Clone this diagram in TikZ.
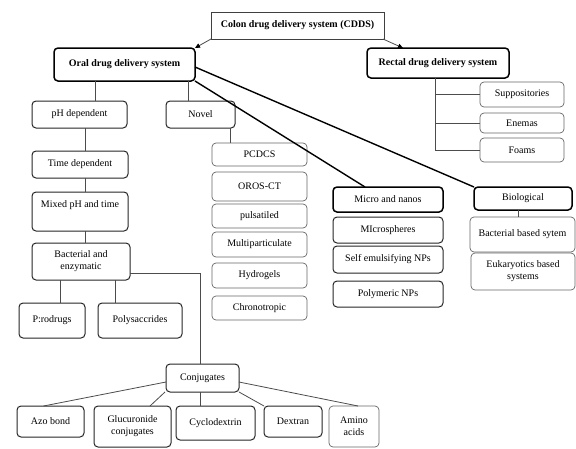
\documentclass[tikz,border=0pt]{standalone}
\usepackage{fontspec}
\setmainfont{Liberation Serif}
\usetikzlibrary{arrows.meta}
\newcommand{\bx}[7]{\node[#1, minimum width={(#5)-(#3)}, minimum height={(#6)-(#4)}] (#2) at ({((#3)+(#5))/2},{((#4)+(#6))/2}) {#7};}
\begin{document}
\begin{tikzpicture}[x=1pt,y=-1pt,
  every node/.style={font=\rmfamily\fontsize{10}{12}\selectfont, inner sep=1pt, outer sep=0pt, align=center},
  tbox/.style={draw=black!60, line width=0.7pt, rounded corners=4pt, fill=white},
  mbox/.style={draw=black!85, line width=1pt, rounded corners=4pt, fill=white},
  kbox/.style={draw=black, line width=1.5pt, rounded corners=4pt, fill=white},
  sbox/.style={draw=black!75, line width=1pt, fill=white},
  conn/.style={draw=black!70, line width=0.8pt},
  diag/.style={draw=black, line width=1.4pt},
  arr/.style={draw=black!70, line width=0.8pt, -{Triangle[length=5pt,width=4.5pt,black]}}]
\useasboundingbox (0,0) rectangle (576,448);
% top
\bx{sbox}{cdds}{211}{12}{384}{39}{\bfseries Colon drug delivery system (CDDS)}
\bx{kbox}{oral}{54}{48}{195}{81}{\bfseries Oral drug delivery system}
\bx{kbox}{rectal}{367}{48}{509}{78}{\bfseries Rectal drug delivery system}
% rectal children
\bx{tbox}{supp}{480}{82}{564}{107}{Suppositories}
\bx{tbox}{enemas}{480}{113}{564}{133}{Enemas}
\bx{tbox}{foams}{480}{138}{564}{162}{Foams}
% oral children
\bx{mbox}{ph}{32}{101}{127}{128}{pH dependent}
\bx{mbox}{novel}{166}{101}{235}{128}{Novel}
\bx{tbox}{pcdcs}{212}{143}{307}{166}{PCDCS}
\bx{tbox}{oros}{212}{172}{307}{201}{OROS-CT}
\bx{tbox}{puls}{212}{204}{307}{228}{pulsatiled}
\bx{tbox}{multi}{212}{232}{307}{257}{Multiparticulate}
\bx{tbox}{hydro}{212}{263}{307}{288}{Hydrogels}
\bx{tbox}{chrono}{212}{296}{307}{320}{Chronotropic}
\bx{kbox}{micro}{333}{187}{443}{212}{Micro and nanos}
\bx{mbox}{micros}{333}{217}{443}{243}{MIcrospheres}
\bx{mbox}{self}{333}{246}{443}{273}{Self emulsifying NPs}
\bx{mbox}{poly}{333}{281}{443}{307}{Polymeric NPs}
\bx{kbox}{bio}{474}{187}{572}{210}{Biological}
\bx{tbox}{bact}{470}{217}{575}{252}{Bacterial based sytem}
\bx{tbox}{euk}{471}{253}{575}{290}{Eukaryotics based\\systems}
% left column
\bx{mbox}{time}{32}{151}{128}{178}{Time dependent}
\bx{mbox}{mixed}{32}{192}{128}{231}{Mixed pH and time\\\strut}
\bx{mbox}{bacenz}{32}{243}{130}{280}{Bacterial and\\enzymatic}
\bx{mbox}{prod}{19}{303}{85}{338}{P:rodrugs}
\bx{mbox}{polys}{98}{303}{182}{338}{Polysaccrides}
% conjugates
\bx{mbox}{conj}{166}{364}{239}{392}{Conjugates}
\bx{mbox}{azo}{17}{406}{84}{437}{Azo bond}
\bx{mbox}{gluc}{94}{406}{171}{447}{Glucuronide\\conjugates}
\bx{mbox}{cyclo}{176}{406}{255}{440}{Cyclodextrin}
\bx{mbox}{dextran}{264}{406}{322}{437}{Dextran}
\bx{tbox}{amino}{329}{406}{379}{447}{Amino\\acids}
% arrows from CDDS
\draw[arr] (cdds.south west) -- (oral.north east);
\draw[arr] ([xshift=-1pt]cdds.south east) -- ([xshift=-35pt]rectal.north);
% rectal tree
\coordinate (rv) at (435,78);
\draw[conn] (rv) |- (supp.west);
\draw[conn] (rv) |- (enemas.west);
\draw[conn] (rv) |- (foams.west);
% oral tree
\draw[conn] ([xshift=-29.5pt]oral.south) -- ([xshift=-29.5pt]oral.south |- ph.north);
\draw[conn] ([xshift=63.5pt]oral.south) -- ([xshift=63.5pt]oral.south |- novel.north);
\draw[conn] ([xshift=29.5pt]novel.south) -- ([xshift=29.5pt]novel.south |- pcdcs.north);
\draw[diag] ([yshift=-16.5pt]oral.east) -- ([xshift=-23pt]micro.north);
\draw[diag] ([yshift=-2.5pt]oral.east) -- (bio.north west);
\draw[conn] ([xshift=-5pt]bio.south) -- ([xshift=-5pt]bio.south |- bact.north);
% left column
\draw[conn] ([xshift=5.5pt]ph.south) -- ([xshift=5.5pt]ph.south |- time.north);
\draw[conn] ([xshift=5pt]time.south) -- ([xshift=5pt]time.south |- mixed.north);
\draw[conn] ([xshift=5pt]mixed.south) -- ([xshift=5pt]mixed.south |- bacenz.north);
\draw[conn] ([xshift=-21pt]bacenz.south) -- ([xshift=-21pt]bacenz.south |- prod.north);
\draw[conn] ([xshift=34pt]bacenz.south) -- ([xshift=34pt]bacenz.south |- polys.north);
\draw[conn] ([yshift=-11.5pt]bacenz.east) -| ([xshift=-2.5pt]conj.north);
% conjugates
\draw[conn] ([yshift=-4pt]conj.west) -- ([xshift=-7pt]azo.north);
\draw[conn] ([xshift=-1pt]conj.south west) -- ([xshift=17.5pt]gluc.north);
\draw[conn] ([xshift=-2.5pt]conj.south) -- ([xshift=-2.5pt]conj.south |- cyclo.north);
\draw[conn] (conj.south east) -- (dextran.north west);
\draw[conn] ([yshift=-4pt]conj.east) -- ([xshift=4pt]amino.north);
\end{tikzpicture}
\end{document}
